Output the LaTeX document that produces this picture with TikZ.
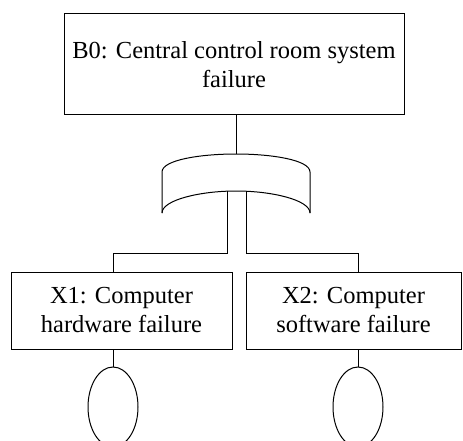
\documentclass[tikz,border=0pt]{standalone}
\usepackage{fontspec}
\setmainfont{Liberation Serif}
\usetikzlibrary{shapes.geometric}
\begin{document}
\begin{tikzpicture}[x=1pt, y=-1pt, line width=1pt,
  event/.style={draw, rectangle, align=center, inner sep=0pt,
    font=\fontsize{24.5}{29}\selectfont},
  basic/.style={draw, ellipse, inner sep=0pt, minimum width=50pt, minimum height=80pt}]
  \useasboundingbox (0,0) rectangle (463,441);
  \clip (0,0) rectangle (463,441);

  % events
  \node[event, minimum width=340pt, minimum height=101pt] (B0) at (234,64.5)
    {B0: Central control room system\\failure};
  \node[event, minimum width=221pt, minimum height=77pt] (X1) at (121.5,310.5)
    {X1: Computer\\hardware failure};
  \node[event, minimum width=215pt, minimum height=77pt] (X2) at (353.5,310.5)
    {X2: Computer\\software failure};

  % basic events
  \node[basic] (E1) at (113,407) {};
  \node[basic] (E2) at (358,407) {};

  % OR gate
  \coordinate (gtop) at (236,154);
  \coordinate (gl) at (227,191.3);
  \coordinate (gr) at (246,191.3);
  \draw (162,213) -- (162,172)
        .. controls (162,160) and (200,154) .. (gtop)
        .. controls (272,154) and (310,160) .. (310,172) -- (310,213);
  \draw (162,213) .. controls (162,200) and (200,191) .. (236,191)
        .. controls (272,191) and (310,200) .. (310,213);

  % connectors
  \coordinate (jl) at (113,253);
  \coordinate (jr) at (358,253);
  \draw (B0.south -| gtop) -- (gtop);
  \draw (gl) |- (jl) -- (jl |- X1.north);
  \draw (gr) |- (jr) -- (jr |- X2.north);
  \draw (E1.north |- X1.south) -- (E1.north);
  \draw (E2.north |- X2.south) -- (E2.north);
\end{tikzpicture}
\end{document}
